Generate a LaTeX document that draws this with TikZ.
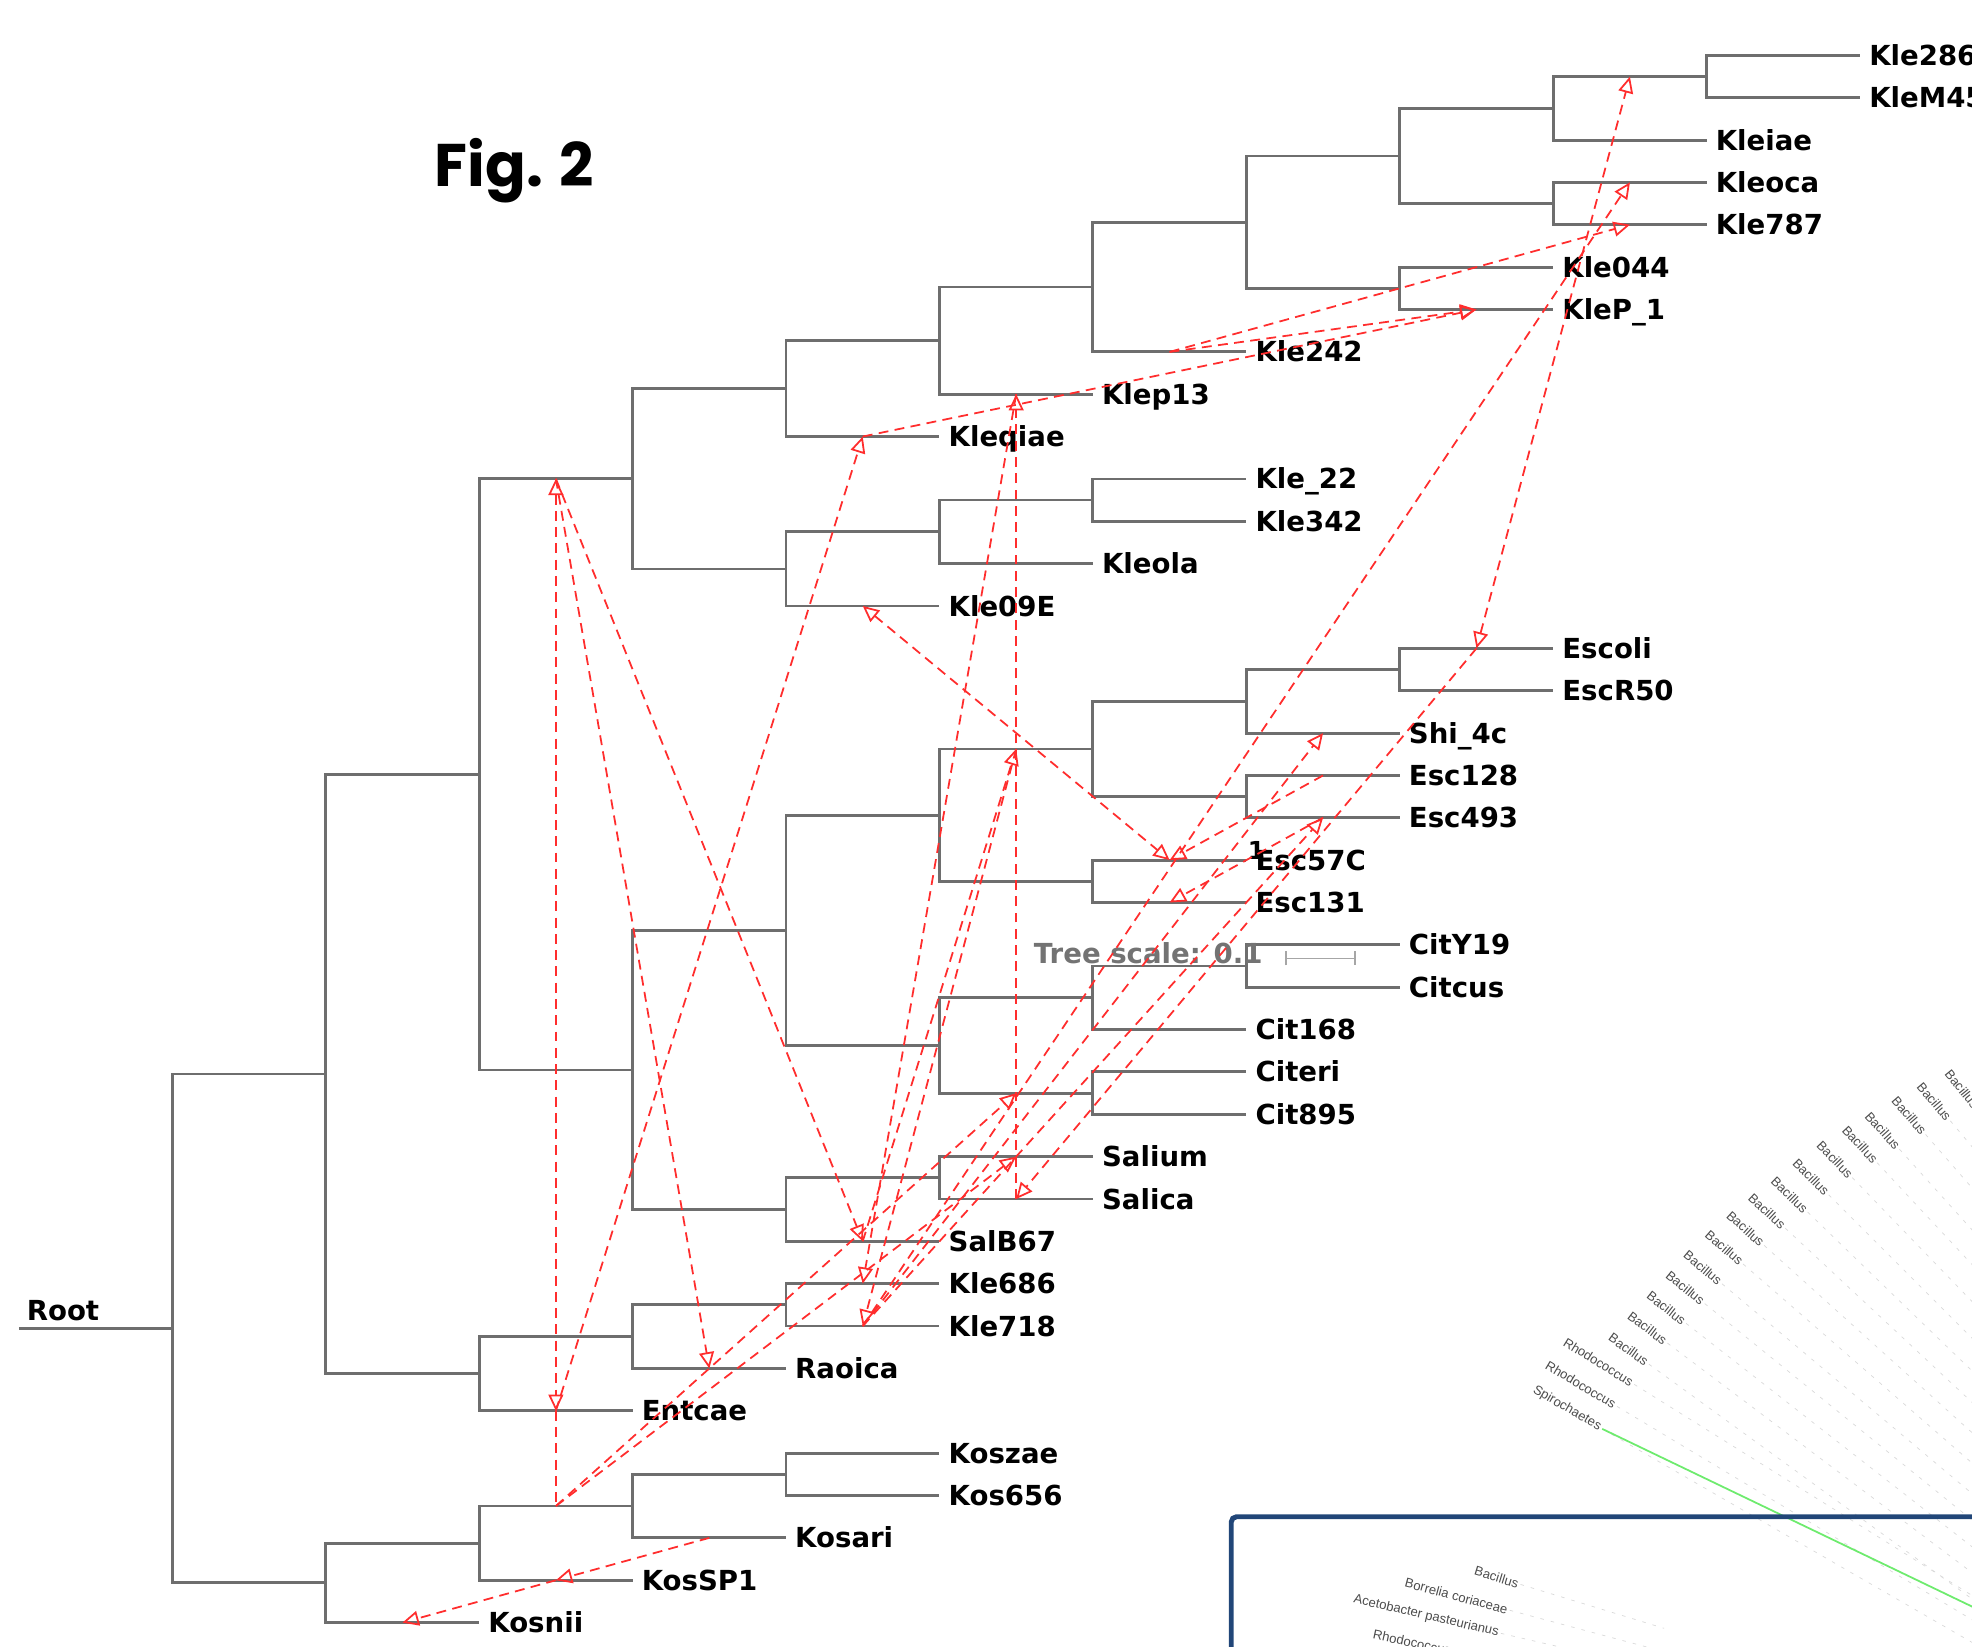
\documentclass[tikz,border=0pt]{standalone}
\usepackage{fontspec}
\setmainfont{DejaVu Sans}
\newfontfamily\figfont{Poppins}
\newfontfamily\taxfont{Liberation Sans}
\usetikzlibrary{arrows.meta,calc}
\definecolor{treegray}{RGB}{110,110,110}
\definecolor{hgtred}{RGB}{255,45,45}
\definecolor{boxblue}{RGB}{33,70,120}
\definecolor{spirogreen}{RGB}{110,235,110}
\definecolor{scalegray}{RGB}{115,115,115}

\begin{document}
\begin{tikzpicture}[x=0.0125cm,y=-0.0125cm,
  >={Triangle[open,length=4.6pt,width=4.2pt]},
  branch/.style={draw=treegray,line width=0.8pt},
  leaf/.style={anchor=west,inner xsep=2.4pt,inner ysep=0pt,text height=5.7pt,text depth=0pt,
    font=\bfseries\fontsize{7.8}{9}\selectfont},
  hgt/.style={draw=hgtred,line width=0.5pt,dash pattern=on 2.8pt off 1.8pt},
  taxon/.style={font=\taxfont\fontsize{3.7}{4}\selectfont,text=black!70,inner sep=0.5pt},
  faint/.style={draw=black!15,line width=0.2pt,dash pattern=on 1pt off 2pt}]
\useasboundingbox (0,0) rectangle (1568,1309);
\clip (0,0) rectangle (1568,1309);

\node[font=\figfont\bfseries\fontsize{17}{19}\selectfont,anchor=base west,inner sep=0pt] (fig) at (345,148) {Fig. 2};

\node[leaf] (Kle286) at (1479,44.0) {Kle286};
\node[leaf] (KleM45) at (1479,77.7) {KleM45};
\node[leaf] (Kleiae) at (1357,111.4) {Kleiae};
\node[leaf] (Kleoca) at (1357,145.0) {Kleoca};
\node[leaf] (Kle787) at (1357,178.7) {Kle787};
\node[leaf] (Kle044) at (1235,212.4) {Kle044};
\node[leaf] (KleP_1) at (1235,246.1) {KleP\_1};
\node[leaf] (Kle242) at (991,279.8) {Kle242};
\node[leaf] (Klep13) at (869,313.4) {Klep13};
\node[leaf] (Kleqiae) at (747,347.1) {Kleqiae};
\node[leaf] (Kle_22) at (991,380.8) {Kle\_22};
\node[leaf] (Kle342) at (991,414.5) {Kle342};
\node[leaf] (Kleola) at (869,448.2) {Kleola};
\node[leaf] (Kle09E) at (747,481.8) {Kle09E};
\node[leaf] (Escoli) at (1235,515.5) {Escoli};
\node[leaf] (EscR50) at (1235,549.2) {EscR50};
\node[leaf] (Shi_4c) at (1113,582.9) {Shi\_4c};
\node[leaf] (Esc128) at (1113,616.6) {Esc128};
\node[leaf] (Esc493) at (1113,650.2) {Esc493};
\node[leaf] (Esc57C) at (991,683.9) {Esc57C};
\node[leaf] (Esc131) at (991,717.6) {Esc131};
\node[leaf] (CitY19) at (1113,751.3) {CitY19};
\node[leaf] (Citcus) at (1113,785.0) {Citcus};
\node[leaf] (Cit168) at (991,818.6) {Cit168};
\node[leaf] (Citeri) at (991,852.3) {Citeri};
\node[leaf] (Cit895) at (991,886.0) {Cit895};
\node[leaf] (Salium) at (869,919.7) {Salium};
\node[leaf] (Salica) at (869,953.4) {Salica};
\node[leaf] (SalB67) at (747,987.0) {SalB67};
\node[leaf] (Kle686) at (747,1020.7) {Kle686};
\node[leaf] (Kle718) at (747,1054.4) {Kle718};
\node[leaf] (Raoica) at (625,1088.1) {Raoica};
\node[leaf] (Entcae) at (503,1121.8) {Entcae};
\node[leaf] (Koszae) at (747,1155.4) {Koszae};
\node[leaf] (Kos656) at (747,1189.1) {Kos656};
\node[leaf] (Kosari) at (625,1222.8) {Kosari};
\node[leaf] (KosSP1) at (503,1256.5) {KosSP1};
\node[leaf] (Kosnii) at (381,1290.2) {Kosnii};

\coordinate (stem) at (15,1056.3);
\coordinate (root) at (137,1056.3);
\coordinate (nA) at (259,854);
\coordinate (nK) at (259,1258.6);
\coordinate (nB) at (381,615.7);
\coordinate (nE) at (381,1092.3);
\coordinate (nK2) at (381,1227);
\coordinate (nC) at (503,380.7);
\coordinate (nD) at (503,850.8);
\coordinate (nR) at (503,1062.8);
\coordinate (nK3) at (503,1197.5);
\coordinate (nC1) at (625,309);
\coordinate (nC2) at (625,452.4);
\coordinate (nD1) at (625,739.7);
\coordinate (nD2) at (625,961.8);
\coordinate (nKL) at (625,1037.5);
\coordinate (nK4) at (625,1172.3);
\coordinate (nC11) at (747,270.8);
\coordinate (nC21) at (747,422.9);
\coordinate (nD11) at (747,648.1);
\coordinate (nD12) at (747,831.3);
\coordinate (nD21) at (747,936.5);
\coordinate (nC111) at (869,228.2);
\coordinate (nC211) at (869,397.6);
\coordinate (nD111) at (869,595.5);
\coordinate (nD112) at (869,700.8);
\coordinate (nD121) at (869,793.4);
\coordinate (nD122) at (869,869.2);
\coordinate (nC1111) at (991,176.6);
\coordinate (nD1111) at (991,557.6);
\coordinate (nD1112) at (991,633.4);
\coordinate (nD1211) at (991,768.1);
\coordinate (nC11a) at (1113,124);
\coordinate (nC11b) at (1113,229.3);
\coordinate (nD11111) at (1113,532.4);
\coordinate (nC11a1) at (1235,86.1);
\coordinate (nC11a2) at (1235,161.9);
\coordinate (nC11a11) at (1357,60.9);

\draw[branch] (stem) -- (root);
\node[leaf,anchor=base west] (rootlbl) at (14,1050) {Root};
\foreach \p/\c in {root/nA, root/nK, nA/nB, nA/nE, nB/nC, nB/nD,
    nC/nC1, nC/nC2, nC1/nC11, nC1/Kleqiae, nC11/nC111, nC11/Klep13,
    nC111/nC1111, nC111/Kle242, nC1111/nC11a, nC1111/nC11b,
    nC11a/nC11a1, nC11a/nC11a2, nC11a1/nC11a11, nC11a1/Kleiae,
    nC11a11/Kle286, nC11a11/KleM45, nC11a2/Kleoca, nC11a2/Kle787,
    nC11b/Kle044, nC11b/KleP_1, nC2/nC21, nC2/Kle09E, nC21/nC211, nC21/Kleola,
    nC211/Kle_22, nC211/Kle342, nD/nD1, nD/nD2, nD1/nD11, nD1/nD12,
    nD11/nD111, nD11/nD112, nD111/nD1111, nD111/nD1112, nD1111/nD11111, nD1111/Shi_4c,
    nD11111/Escoli, nD11111/EscR50, nD1112/Esc128, nD1112/Esc493,
    nD112/Esc57C, nD112/Esc131, nD12/nD121, nD12/nD122, nD121/nD1211, nD121/Cit168,
    nD1211/CitY19, nD1211/Citcus, nD122/Citeri, nD122/Cit895,
    nD2/nD21, nD2/SalB67, nD21/Salium, nD21/Salica,
    nE/nR, nE/Entcae, nR/nKL, nR/Raoica, nKL/Kle686, nKL/Kle718,
    nK/nK2, nK/Kosnii, nK2/nK3, nK2/KosSP1, nK3/nK4, nK3/Kosari, nK4/Koszae, nK4/Kos656}
  \draw[branch] (\p) |- (\c) coordinate[pos=.75] (m\c);

\node[font=\bfseries\fontsize{7.8}{9}\selectfont,text=scalegray,inner sep=0pt] (tscale) at (913,758) {Tree scale: 0.1};
\coordinate (sbL) at (1022,762);
\coordinate (sbR) at (1078,762);
\draw[draw=black!35,line width=0.4pt,{Bar[width=4pt]}-{Bar[width=4pt]}] (sbL) -- (sbR);
\node[font=\bfseries\fontsize{7}{8}\selectfont,inner sep=0pt] (one) at (999,676) {1};

\foreach \x/\y/\a/\t [count=\i] in {1246/1120/-30/Spirochaetes, 1257/1101/-31/Rhodococcus,
    1271/1083/-32/Rhodococcus, 1295/1073/-36/Bacillus, 1310/1056/-37/Bacillus,
    1325/1040/-38/Bacillus, 1340/1024/-39/Bacillus, 1354/1008/-40/Bacillus,
    1371/992/-41/Bacillus, 1388/977/-42/Bacillus, 1405/963/-43/Bacillus,
    1423/950/-44/Bacillus, 1440/936/-45/Bacillus, 1459/922/-46/Bacillus,
    1479/910/-47/Bacillus, 1497/899/-48/Bacillus, 1518/887/-49/Bacillus,
    1538/876/-50/Bacillus, 1560/866/-51/Bacillus}{
  \node[taxon,rotate=\a] (fan\i) at (\x,\y) {\t};
  \draw[faint] (fan\i.east) -- ($(fan\i.west)!9!(fan\i.east)$);
}
\coordinate (spiroEnd) at (1640,1312);
\draw[draw=spirogreen,line width=0.5pt] (fan1.east) -- (spiroEnd);

\draw[boxblue,line width=1.4pt,rounded corners=1.5pt] (979,1206) rectangle (1640,1380);
\node[taxon,rotate=-17] (in1) at (1190,1254) {Bacillus};
\node[taxon,rotate=-15] (in2) at (1158,1269) {Borrelia coriaceae};
\node[taxon,rotate=-13] (in3) at (1134,1285) {Acetobacter pasteurianus};
\node[taxon,rotate=-12,anchor=west] (in4) at (1090,1299) {Rhodococcus};
\foreach \n in {in1,in2,in3,in4}
  \draw[faint] (\n.east) -- ($(\n.west)!4!(\n.east)$);

\draw[hgt,->] (mKosari) -- (mKosSP1);
\draw[hgt,->] (mKosSP1) -- (mKosnii);
\draw[hgt,<->] (mnC) -- (mEntcae);
\draw[hgt] (mEntcae) -- (mnK3);
\draw[hgt,->] (mnC) -- (mRaoica);
\draw[hgt,->] (mnC) -- (mSalB67);
\draw[hgt,->] (mEntcae) -- (mKleqiae);
\draw[hgt,->] (mKleqiae) -- (mKleP_1);
\draw[hgt,->] (mKle242) -- (mKleP_1);
\draw[hgt,->] (mKle242) -- (mKle787);
\draw[hgt,<->] (mEscoli) -- (mnC11a11);
\draw[hgt,->] (mKle718) -- (mKleoca);
\draw[hgt,->] (mEscoli) -- (mSalica);
\draw[hgt,->] (mSalica) -- (mKlep13);
\draw[hgt,->] (mSalB67) -- (mnD111);
\draw[hgt,->] (mKlep13) -- (mKle686);
\draw[hgt,->] (mnD111) -- (mKle718);
\draw[hgt,<->] (mKle09E) -- (mEsc57C);
\draw[hgt,->] (mEsc128) -- (mEsc57C);
\draw[hgt,->] (mEsc493) -- (mEsc131);
\draw[hgt,->] (mKle718) -- (mShi_4c);
\draw[hgt,->] (mKle718) -- (mEsc493);
\draw[hgt,->] (mnK3) -- (mnD122);
\draw[hgt,->] (mnK3) -- (mSalium);
\end{tikzpicture}
\end{document}
